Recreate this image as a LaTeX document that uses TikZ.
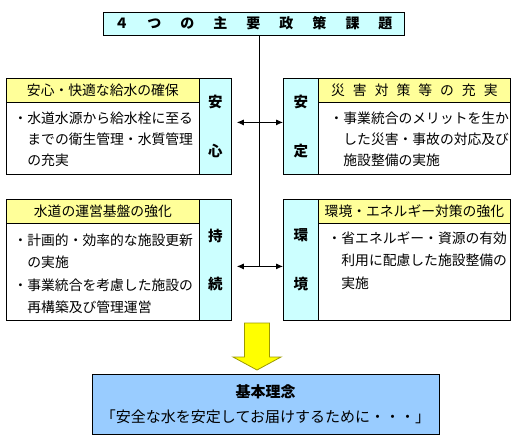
\documentclass[tikz,border=0pt]{standalone}
\usepackage{fontspec}
\setmainfont{Noto Sans CJK JP}
\usepackage{tikz}
\usetikzlibrary{arrows.meta}

\definecolor{paleCyan}{HTML}{CCFFFF}
\definecolor{paleYellow}{HTML}{FFFF99}
\definecolor{skyBlue}{HTML}{99CCFF}
\definecolor{arrowYellow}{HTML}{FFFF00}
\definecolor{arrowEdge}{HTML}{9C9A00}
\newcommand{\bodyfont}{\fontsize{13.8}{16}\selectfont}
\newcommand{\colfont}{\fontsize{14.5}{48.5}\selectfont\bfseries}
\newcommand{\gap}[1]{\hspace{#1pt}}

\begin{document}
\begin{tikzpicture}[x=1pt, y=-1pt, line width=0.8pt,
	hdr/.style={draw, fill=paleYellow, anchor=north west, minimum width=193, minimum height=24, inner sep=0pt, text height=11pt, text depth=1pt, font=\bodyfont},
	bodybox/.style={draw, fill=white, anchor=north west, minimum width=193, inner sep=0pt},
	colbox/.style={draw, fill=paleCyan, anchor=north west, inner sep=0pt, align=center, font=\colfont},
	txt/.style={anchor=west, inner sep=0pt, text height=11pt, text depth=1pt, font=\bodyfont},
	dbl/.style={{Latex[length=7pt,width=6pt]}-{Latex[length=7pt,width=6pt]}}]
	\useasboundingbox (0,0) rectangle (517,439);
	% title
	\node[draw, fill=paleCyan, minimum width=301, minimum height=23, inner sep=0pt, font=\fontsize{14}{16}\selectfont\bfseries] (title) at (253.5,23.5)
	  {４\gap{19}つ\gap{19}の\gap{19}主\gap{19}要\gap{19}政\gap{19}策\gap{19}課\gap{19}題};
	\coordinate (hub) at (259,266);
	\draw (title.south -| hub) -- (hub);
	% upper left
	\node[bodybox, minimum height=96] (bdA) at (6,78) {};
	\node[hdr] (hdA) at (6,78) {安心・快適な給水の確保};
	\node[colbox, minimum width=32, minimum height=96] (colA) at (199,78) {安\\心};
	\node[txt] (a1) at (13.2,118) {・水道水源から給水栓に至る};
	\node[txt] (a2) at (27,139) {までの衛生管理・水質管理};
	\node[txt] (a3) at (27,160) {の充実};
	% upper right
	\node[bodybox, minimum width=192, minimum height=96] (bdB) at (318,78) {};
	\node[hdr, minimum width=192] (hdB) at (318,78) {災\gap{8}害\gap{8}対\gap{8}策\gap{8}等\gap{8}の\gap{8}充\gap{8}実};
	\node[colbox, minimum width=35, minimum height=96] (colB) at (283,78) {安\\定};
	\node[txt] (b1) at (329.2,118) {・事業統合のメリットを生か};
	\node[txt] (b2) at (343,139) {した災害・事故の対応及び};
	\node[txt] (b3) at (343,160) {施設整備の実施};
	% lower left
	\node[bodybox, minimum height=121] (bdC) at (6,199) {};
	\node[hdr] (hdC) at (6,199) {水道の運営基盤の強化};
	\node[colbox, minimum width=32, minimum height=121] (colC) at (199,199) {持\\続};
	\node[txt] (c1) at (13.2,240) {・計画的・効率的な施設更新};
	\node[txt] (c2) at (27,262) {の実施};
	\node[txt] (c3) at (13.2,285) {・事業統合を考慮した施設の};
	\node[txt] (c4) at (27,307) {再構築及び管理運営};
	% lower right
	\node[bodybox, minimum width=192, minimum height=121] (bdD) at (318,199) {};
	\node[hdr, minimum width=192] (hdD) at (318,199) {環境・エネルギー対策の強化};
	\node[colbox, minimum width=35, minimum height=121] (colD) at (283,199) {環\\境};
	\node[txt] (d1) at (327.2,238) {・省エネルギー・資源の有効};
	\node[txt] (d2) at (341,260) {利用に配慮した施設整備の};
	\node[txt] (d3) at (341,283) {実施};
	% links
	\draw[dbl, shorten <=5pt] ([yshift=4pt]colA.east) -- ([yshift=4pt]colB.west);
	\draw[dbl, shorten <=5pt] ([yshift=-6.5pt]colC.east) -- ([yshift=-6.5pt]colD.west);
	% big arrow
	\draw[fill=arrowYellow, draw=arrowEdge] (244.5,323) -- (269.5,323) -- (269.5,357) -- (281,357) -- (257,370) -- (233,357) -- (244.5,357) -- cycle;
	% basic idea
	\node[draw, fill=skyBlue, minimum width=347, minimum height=60, inner sep=0pt, align=center, font=\fontsize{15}{25}\selectfont] (idea) at (265.5,404)
	  {\textbf{基本理念}\\「安全な水を安定してお届けするために・・・」};
\end{tikzpicture}
\end{document}
